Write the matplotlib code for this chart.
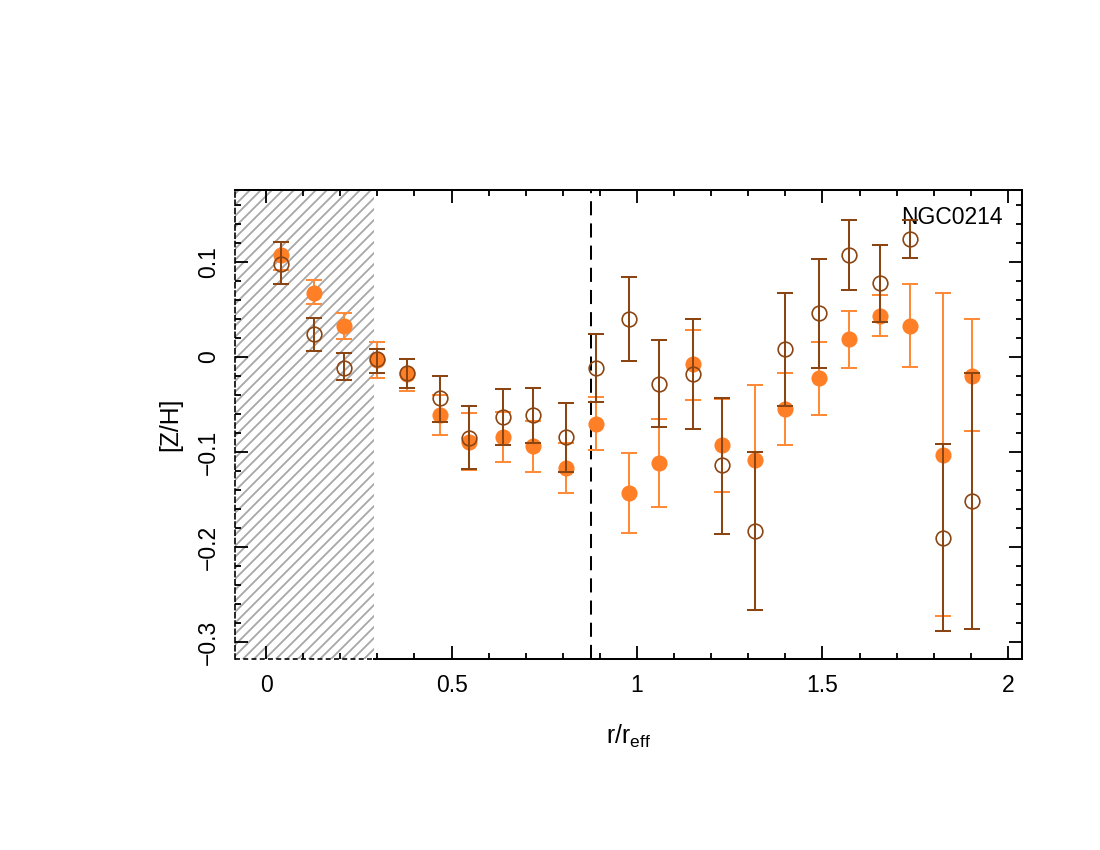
import numpy as np
import matplotlib
matplotlib.use("Agg")
import matplotlib.pyplot as plt
from matplotlib.ticker import MultipleLocator

plt.rcParams["font.family"] = ["Liberation Sans", "DejaVu Sans"]
plt.rcParams["hatch.linewidth"] = 1.0

# radius in units of r_eff
r = [0.040, 0.129, 0.210, 0.299, 0.380, 0.469, 0.547, 0.639, 0.720, 0.809, 0.889, 0.978,
     1.059, 1.151, 1.229, 1.318, 1.399, 1.491, 1.571, 1.655, 1.736, 1.825, 1.903]

# filled (orange) series
zh_fill = [0.108, 0.068, 0.033, -0.003, -0.018, -0.061, -0.089, -0.084, -0.094, -0.117, -0.070, -0.143,
           -0.112, -0.007, -0.093, -0.108, -0.055, -0.022, 0.019, 0.043, 0.033, -0.103, -0.020]
err_fill_lo = [0.016, 0.012, 0.014, 0.019, 0.018, 0.021, 0.030, 0.027, 0.027, 0.026, 0.028, 0.042,
               0.046, 0.038, 0.049, 0.158, 0.038, 0.039, 0.031, 0.021, 0.043, 0.170, 0.058]
err_fill_hi = [0.013, 0.013, 0.013, 0.019, 0.016, 0.021, 0.030, 0.026, 0.027, 0.026, 0.028, 0.042,
               0.047, 0.035, 0.049, 0.079, 0.038, 0.038, 0.030, 0.022, 0.044, 0.170, 0.060]

# open (brown) series
zh_open = [0.098, 0.024, -0.011, -0.002, -0.017, -0.043, -0.085, -0.063, -0.061, -0.084, -0.012, 0.040,
           -0.028, -0.018, -0.114, -0.183, 0.009, 0.046, 0.107, 0.078, 0.124, -0.191, -0.152]
err_open_lo = [0.021, 0.018, 0.013, 0.015, 0.016, 0.025, 0.033, 0.030, 0.029, 0.037, 0.035, 0.044,
               0.046, 0.058, 0.072, 0.083, 0.061, 0.058, 0.036, 0.041, 0.020, 0.097, 0.134]
err_open_hi = [0.023, 0.017, 0.015, 0.011, 0.015, 0.023, 0.033, 0.029, 0.028, 0.036, 0.036, 0.044,
               0.046, 0.058, 0.071, 0.083, 0.059, 0.057, 0.037, 0.040, 0.020, 0.099, 0.135]

r_psf = 0.29      # hatched inner region
r_line = 0.876    # dashed vertical marker
galaxy = "NGC0214"

ORANGE = "#ff7f27"
ORANGE_ERR = "#ff8a38"
BROWN = "#8b4513"

fig = plt.figure(figsize=(1100 / 132, 850 / 132), dpi=132)
ax = fig.add_axes([0.2136, 0.2247, 0.7155, 0.5518])
xlim = (-0.084, 2.038)
ylim = (-0.318, 0.176)
ax.set_xlim(*xlim)
ax.set_ylim(*ylim)

# hatched region
ax.fill_betweenx(ylim, xlim[0], r_psf, facecolor="none", edgecolor="#a8a8a8",
                 hatch="////", linewidth=0, zorder=1)

ax.axvline(r_line, color="black", linestyle=(0, (7, 4)), linewidth=1.1, zorder=2)

# orange first, brown drawn on top
ax.errorbar(r, zh_fill, yerr=[err_fill_lo, err_fill_hi], fmt="none", ecolor=ORANGE_ERR,
            elinewidth=1.1, capsize=4.4, capthick=1.1, zorder=3)
ax.plot(r, zh_fill, "o", color=ORANGE, markersize=8.8, markeredgewidth=0, zorder=3.1)
ax.errorbar(r, zh_open, yerr=[err_open_lo, err_open_hi], fmt="none", ecolor=BROWN,
            elinewidth=1.1, capsize=4.4, capthick=1.1, zorder=4)
ax.plot(r, zh_open, "o", color=BROWN, markerfacecolor="none", markersize=8.0,
        markeredgewidth=0.9, zorder=4.1)

ax.text(0.975, 0.965, galaxy, transform=ax.transAxes, ha="right", va="top", fontsize=12.5)

# spines: dashed where the hatched region touches
for s in ["top", "right"]:
    ax.spines[s].set_linewidth(1.1)
ax.spines["left"].set_linestyle((0, (3, 2)))
ax.spines["left"].set_linewidth(0.9)
ax.spines["bottom"].set_visible(False)
frac = (r_psf - xlim[0]) / (xlim[1] - xlim[0])
ax.axhline(ylim[0], 0, frac, color="black", linestyle=(0, (3, 2)), linewidth=0.9, clip_on=False)
ax.axhline(ylim[0], frac, 1, color="black", linewidth=1.1, clip_on=False)

ax.xaxis.set_major_locator(MultipleLocator(0.5))
ax.xaxis.set_minor_locator(MultipleLocator(0.1))
ax.yaxis.set_major_locator(MultipleLocator(0.1))
ax.yaxis.set_minor_locator(MultipleLocator(0.02))
ax.xaxis.set_major_formatter(plt.FuncFormatter(lambda v, p: f"{v:g}"))
ax.yaxis.set_major_formatter(plt.FuncFormatter(lambda v, p: "0" if abs(v) < 1e-9 else f"{v:g}".replace("-", "\u2212")))
ax.tick_params(which="both", direction="in", top=True, right=True, width=1.0, labelsize=12.5)
ax.tick_params(which="major", length=7, pad=8)
ax.tick_params(which="minor", length=3.5)
for lab in ax.get_yticklabels():
    lab.set_rotation(90)
    lab.set_va("center")

ax.set_xlabel(r"$\mathregular{r/r_{eff}}$", fontsize=13.5, labelpad=14)
ax.set_ylabel("[Z/H]", fontsize=13.5, labelpad=8)

fig.savefig("out.png", dpi=132)
